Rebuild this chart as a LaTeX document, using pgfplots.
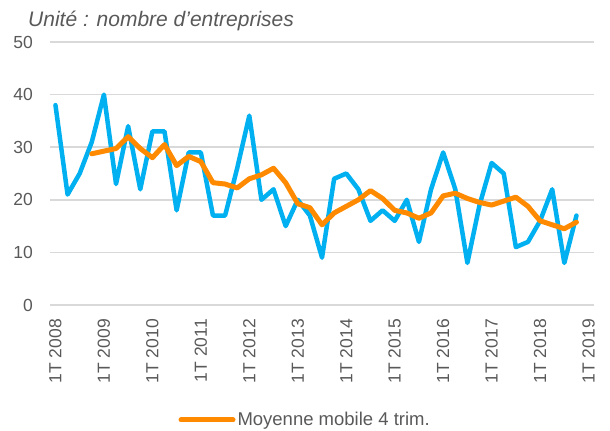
\documentclass[border=0pt]{standalone}
\usepackage{pgfplots}
\pgfplotsset{compat=1.18}
\usepackage{fontspec}
\setmainfont{Liberation Sans}
\definecolor{cblue}{HTML}{00B0F0}
\definecolor{corange}{HTML}{FF8A00}
\definecolor{ctext}{HTML}{595959}
\definecolor{cgrid}{HTML}{D9D9D9}
\begin{document}
\begin{tikzpicture}[x=1bp,y=1bp]
\useasboundingbox (0,0) rectangle (610,430);
\begin{axis}[
  at={(50bp,125bp)}, anchor=south west,
  scale only axis, width=544bp, height=263bp,
  xmin=-0.45, xmax=44.45, ymin=0, ymax=50,
  axis line style={draw=none},
  tick style={draw=none},
  ymajorgrids, grid style={cgrid, line width=1.5bp},
  xtick={0,4,...,44},
  xticklabels={1T 2008,1T 2009,1T 2010,1T 2011,1T 2012,1T 2013,1T 2014,1T 2015,1T 2016,1T 2017,1T 2018,1T 2019},
  ytick={0,10,20,30,40,50},
  yticklabels={0,10,20,30,40,50},
  ticklabel style={font=\fontsize{17.5bp}{20bp}\selectfont, text=ctext},
  yticklabel style={anchor=east, inner sep=0pt, xshift=-17bp},
  xticklabel style={rotate=90, anchor=east, inner sep=0pt, xshift=-14bp},
  clip=false,
  legend style={at={(0.469,-0.437)}, anchor=center, draw=none, fill=none,
    font=\fontsize{18.5bp}{21bp}\selectfont, text=ctext, inner sep=0pt},
  legend image code/.code={\draw[#1, line width=5bp, line cap=round] (0bp,0bp) -- (52bp,0bp);},
]
\addplot[cblue, line width=4.5bp, line join=round, line cap=round, forget plot] coordinates {
(0,38) (1,21) (2,25) (3,31) (4,40) (5,23) (6,34) (7,22) (8,33) (9,33)
(10,18) (11,29) (12,29) (13,17) (14,17) (15,26) (16,36) (17,20) (18,22) (19,15)
(20,20) (21,17) (22,9) (23,24) (24,25) (25,22) (26,16) (27,18) (28,16) (29,20)
(30,12) (31,22) (32,29) (33,22) (34,8) (35,19) (36,27) (37,25) (38,11) (39,12)
(40,16) (41,22) (42,8) (43,17)
};
\addplot[corange, line width=5bp, line join=round, line cap=round] coordinates {
(3,28.75) (4,29.25) (5,29.75) (6,32) (7,29.75) (8,28) (9,30.5) (10,26.5) (11,28.25)
(12,27.25) (13,23.25) (14,23) (15,22.25) (16,24) (17,24.75) (18,26) (19,23.25)
(20,19.25) (21,18.5) (22,15.25) (23,17.5) (24,18.75) (25,20) (26,21.75) (27,20.25)
(28,18) (29,17.5) (30,16.5) (31,17.5) (32,20.75) (33,21.25) (34,20.25) (35,19.5)
(36,19) (37,19.75) (38,20.5) (39,18.75) (40,16) (41,15.25) (42,14.5) (43,15.75)
};
\addlegendentry{Moyenne mobile 4 trim.}
\end{axis}
\node[anchor=base west, inner sep=0pt, text=ctext, font=\itshape\fontsize{21bp}{24bp}\selectfont] at (28,403) {Unité : nombre d’entreprises};
\end{tikzpicture}
\end{document}
